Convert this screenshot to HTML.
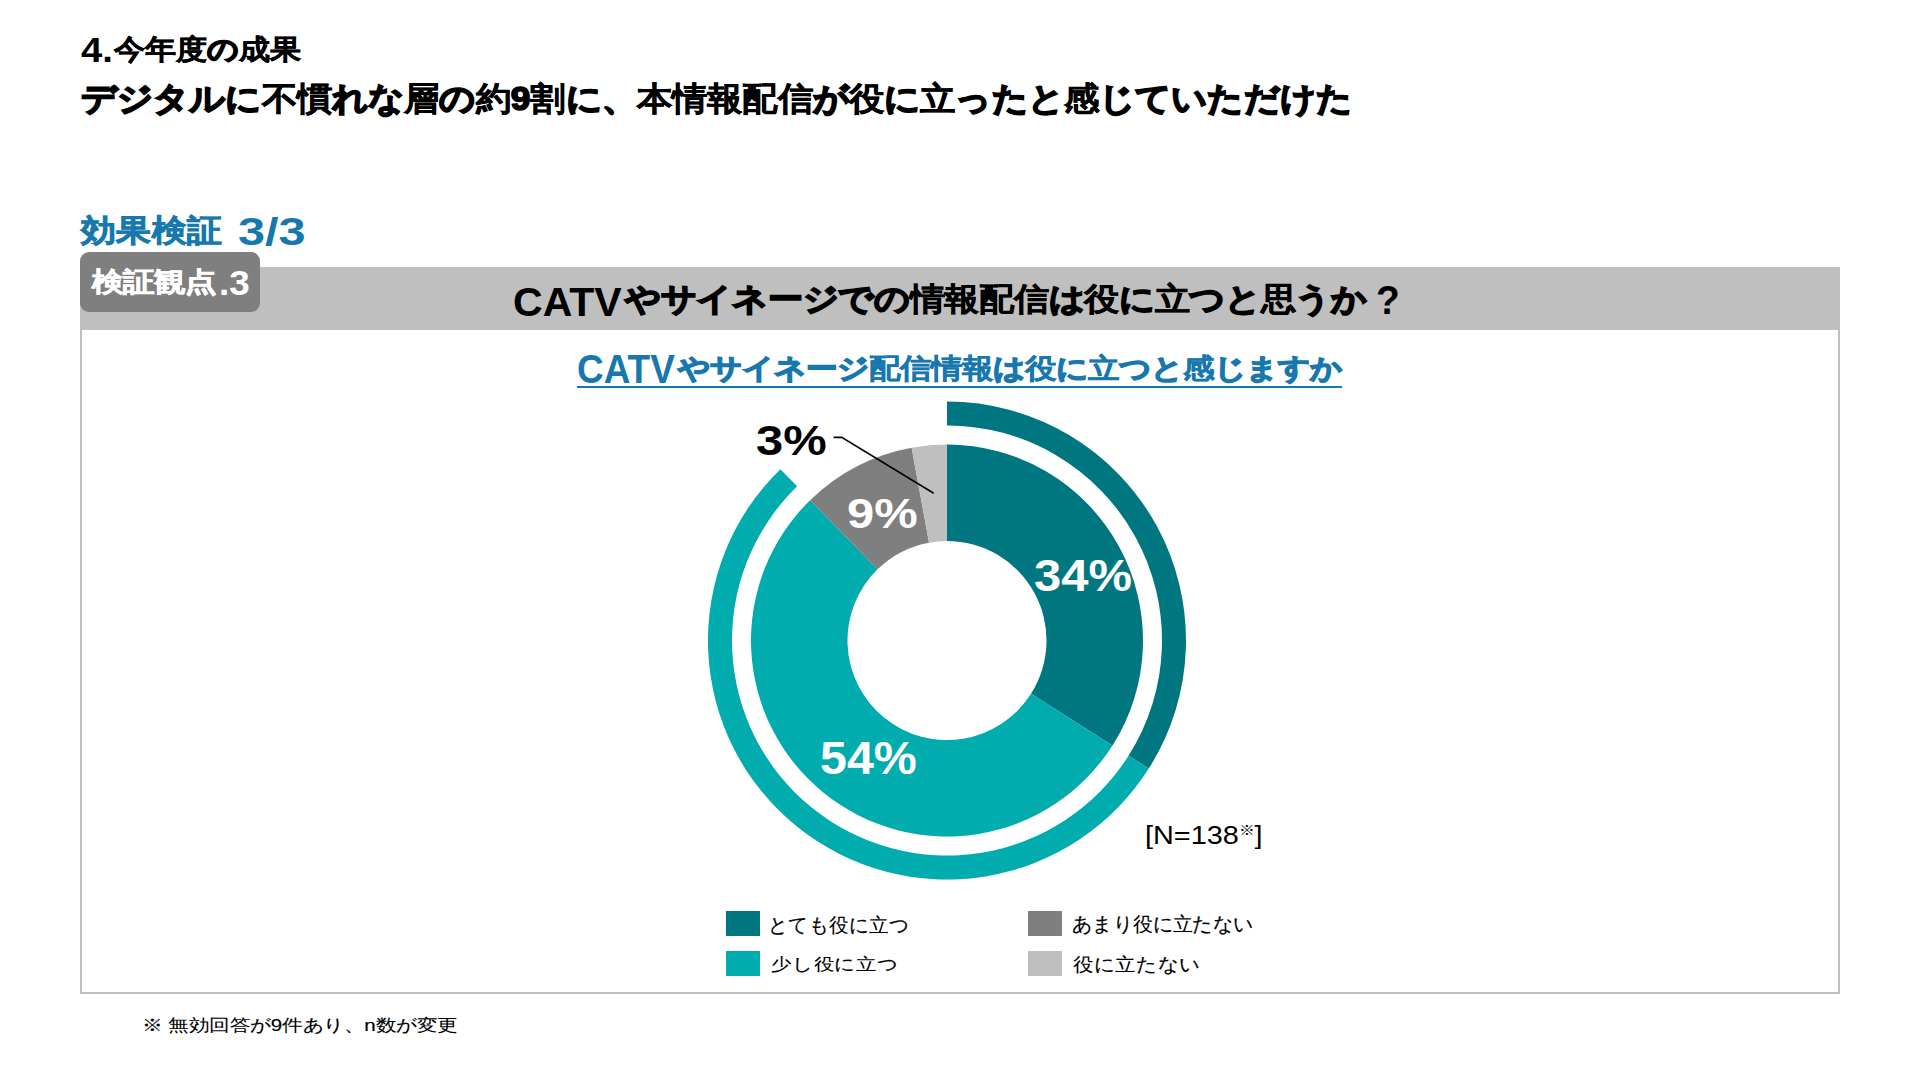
<!DOCTYPE html>
<html lang="ja"><head><meta charset="utf-8"><title>4.今年度の成果</title>
<style>
html,body{margin:0;padding:0;width:1920px;height:1080px;overflow:hidden;background:#fff;}
body{position:relative;font-family:'Liberation Sans', sans-serif;}
.tx{position:absolute;white-space:nowrap;line-height:1;transform-origin:0 0;}
.bx{position:absolute;}
</style></head><body>
<div class="bx" style="left:80px;top:267px;width:1760px;height:63px;background:#bfbfbf"></div>
<div class="bx" style="left:80px;top:330px;width:1756px;height:662px;border:2px solid #bfbfbf;border-top:none"></div>
<div class="bx" style="left:80px;top:252px;width:180px;height:60px;border-radius:9px;background:#7f7f7f"></div>
<div class="bx" style="left:577px;top:386px;width:765px;height:2px;background:#1778b0"></div>
<svg class="bx" style="left:0;top:0" width="1920" height="1080" viewBox="0 0 1920 1080">
<path d="M947.00,444.50 A196,196 0 0 1 1112.49,745.52 L1031.01,693.81 A99.5,99.5 0 0 0 947.00,541.00 Z" fill="#007780"/>
<path d="M1112.49,745.52 A196,196 0 1 1 810.11,500.22 L877.51,569.29 A99.5,99.5 0 1 0 1031.01,693.81 Z" fill="#00acad"/>
<path d="M810.11,500.22 A196,196 0 0 1 911.62,447.72 L929.04,542.63 A99.5,99.5 0 0 0 877.51,569.29 Z" fill="#7f7f7f"/>
<path d="M911.62,447.72 A196,196 0 0 1 947.00,444.50 L947.00,541.00 A99.5,99.5 0 0 0 929.04,542.63 Z" fill="#bfbfbf"/>
<path d="M947.00,401.50 A239,239 0 0 1 1148.79,768.56 L1128.53,755.70 A215,215 0 0 0 947.00,425.50 Z" fill="#007780"/>
<path d="M1148.79,768.56 A239,239 0 1 1 780.38,469.16 L797.11,486.36 A215,215 0 1 0 1128.53,755.70 Z" fill="#00acad"/>
<polyline points="833.6,437.4 841.7,437.4 933.7,493.3" fill="none" stroke="#000" stroke-width="1.6"/>
</svg>
<div class="bx" style="left:726px;top:911px;width:34px;height:25px;background:#007780"></div>
<div class="bx" style="left:726px;top:951px;width:34px;height:25px;background:#00acad"></div>
<div class="bx" style="left:1028px;top:911px;width:34px;height:25px;background:#7f7f7f"></div>
<div class="bx" style="left:1028px;top:951px;width:34px;height:25px;background:#bfbfbf"></div>
<div class="tx" style="left:81.20px;top:31.92px;font-size:30px;font-weight:700;color:#000;transform:scale(1.2783,1.1950)">4.</div>
<div class="tx" style="left:114.33px;top:35.93px;font-size:30px;font-weight:700;color:#000;-webkit-text-stroke:0.05em #000;transform:scale(1.0313,0.9290)"><span style="-webkit-text-stroke-width:0.0150em">今年度</span>の<span style="-webkit-text-stroke-width:0.0150em">成果</span></div>
<div class="tx" style="left:81.07px;top:82.36px;font-size:38px;font-weight:700;color:#000;-webkit-text-stroke:0.05em #000;transform:scale(0.9262,0.8619)">デジタルに<span style="-webkit-text-stroke-width:0.0150em">不慣</span>れな<span style="-webkit-text-stroke-width:0.0150em">層</span>の<span style="-webkit-text-stroke-width:0.0150em">約</span>9<span style="-webkit-text-stroke-width:0.0150em">割</span>に、<span style="-webkit-text-stroke-width:0.0150em">本情報配信</span>が<span style="-webkit-text-stroke-width:0.0150em">役</span>に<span style="-webkit-text-stroke-width:0.0150em">立</span>ったと<span style="-webkit-text-stroke-width:0.0150em">感</span>じていただけた</div>
<div class="tx" style="left:81.28px;top:215.07px;font-size:36px;font-weight:700;color:#1778b0;-webkit-text-stroke:0.05em #1778b0;transform:scale(0.9807,0.8730)"><span style="-webkit-text-stroke-width:0.0250em">効果検証</span></div>
<div class="tx" style="left:238.05px;top:212.98px;font-size:36px;font-weight:700;color:#1778b0;transform:scale(1.3521,1.0538)">3/3</div>
<div class="tx" style="left:91.84px;top:269.29px;font-size:30px;font-weight:700;color:#fff;-webkit-text-stroke:0.05em #fff;transform:scale(1.0355,0.8875)"><span style="-webkit-text-stroke-width:0.0250em">検証観点</span></div>
<div class="tx" style="left:218.55px;top:266.15px;font-size:30px;font-weight:700;color:#fff;transform:scale(1.2273,1.1700)">.3</div>
<div class="tx" style="left:512.66px;top:281.00px;font-size:36px;font-weight:700;color:#000;transform:scale(1.1404,1.1500)">CATV</div>
<div class="tx" style="left:625.13px;top:283.65px;font-size:36px;font-weight:700;color:#000;-webkit-text-stroke:0.05em #000;transform:scale(0.9647,0.8775)">やサイネージでの<span style="-webkit-text-stroke-width:0.0150em">情報配信</span>は<span style="-webkit-text-stroke-width:0.0150em">役</span>に<span style="-webkit-text-stroke-width:0.0150em">立</span>つと<span style="-webkit-text-stroke-width:0.0150em">思</span>うか</div>
<div class="tx" style="left:1376.24px;top:280.42px;font-size:36px;font-weight:700;color:#000;transform:scale(1.0778,1.1462)">?</div>
<div class="tx" style="left:576.91px;top:349.26px;font-size:34px;font-weight:700;color:#1778b0;transform:scale(1.0865,1.1739)">CATV</div>
<div class="tx" style="left:677.93px;top:354.56px;font-size:34px;font-weight:700;color:#1778b0;-webkit-text-stroke:0.05em #1778b0;transform:scale(0.9132,0.8092)">やサイネージ<span style="-webkit-text-stroke-width:0.0150em">配信情報</span>は<span style="-webkit-text-stroke-width:0.0150em">役</span>に<span style="-webkit-text-stroke-width:0.0150em">立</span>つと<span style="-webkit-text-stroke-width:0.0150em">感</span>じますか</div>
<div class="tx" style="left:755.64px;top:419.41px;font-size:42px;font-weight:700;color:#000;transform:scale(1.1627,1.0310)">3%</div>
<div class="tx" style="left:846.54px;top:491.70px;font-size:42px;font-weight:700;color:#fff;transform:scale(1.1627,1.0172)">9%</div>
<div class="tx" style="left:1033.64px;top:554.95px;font-size:42px;font-weight:700;color:#fff;transform:scale(1.1646,1.0414)">34%</div>
<div class="tx" style="left:819.65px;top:735.90px;font-size:42px;font-weight:700;color:#fff;transform:scale(1.1512,1.0828)">54%</div>
<div class="tx" style="left:1144.58px;top:822.26px;font-size:26px;font-weight:400;color:#000;transform:scale(1.1098,0.9792)">[N=138<span style="font-size:0.55em;vertical-align:0.6em">※</span>]</div>
<div class="tx" style="left:768.35px;top:915.91px;font-size:22px;font-weight:400;color:#000;-webkit-text-stroke:0.01em #000;transform:scale(0.8882,0.9091)">とても<span style="-webkit-text-stroke-width:0.0030em">役</span>に<span style="-webkit-text-stroke-width:0.0030em">立</span>つ</div>
<div class="tx" style="left:771.05px;top:956.39px;font-size:22px;font-weight:400;color:#000;-webkit-text-stroke:0.01em #000;transform:scale(0.9466,0.7891)"><span style="-webkit-text-stroke-width:0.0030em">少</span>し<span style="-webkit-text-stroke-width:0.0030em">役</span>に<span style="-webkit-text-stroke-width:0.0030em">立</span>つ</div>
<div class="tx" style="left:1072.12px;top:915.49px;font-size:22px;font-weight:400;color:#000;-webkit-text-stroke:0.01em #000;transform:scale(0.8847,0.8870)">あまり<span style="-webkit-text-stroke-width:0.0030em">役</span>に<span style="-webkit-text-stroke-width:0.0030em">立</span>たない</div>
<div class="tx" style="left:1073.00px;top:954.77px;font-size:22px;font-weight:400;color:#000;-webkit-text-stroke:0.01em #000;transform:scale(0.9396,0.8739)"><span style="-webkit-text-stroke-width:0.0030em">役</span>に<span style="-webkit-text-stroke-width:0.0030em">立</span>たない</div>
<div class="tx" style="left:141.92px;top:1016.80px;font-size:20px;font-weight:400;color:#000;-webkit-text-stroke:0.01em #000;transform:scale(1.0253,0.8429)">※ <span style="-webkit-text-stroke-width:0.0030em">無効回答</span>が9<span style="-webkit-text-stroke-width:0.0030em">件</span>あり、n<span style="-webkit-text-stroke-width:0.0030em">数</span>が<span style="-webkit-text-stroke-width:0.0030em">変更</span></div>
<script>
(function(){
var W=[25.03, 181, 1372.14, 144, 50.05, 120, 25.03, 95.33, 769, 22, 90.03, 727, 60.7, 60.7, 84.06, 84.06, 105.81, 159, 135, 205, 136, 307.81],SX=[1.2783, 1.0313, 0.9262, 0.9807, 1.3521, 1.0355, 1.2273, 1.1404, 0.9647, 1.0778, 1.0865, 0.9132, 1.1627, 1.1627, 1.1646, 1.1512, 1.1098, 0.8882, 0.9466, 0.8847, 0.9396, 1.0253],SY=[1.195, 0.929, 0.8619, 0.873, 1.0538, 0.8875, 1.17, 1.15, 0.8775, 1.1462, 1.1739, 0.8092, 1.031, 1.0172, 1.0414, 1.0828, 0.9792, 0.9091, 0.7891, 0.887, 0.8739, 0.8429];
var els=document.querySelectorAll('.tx'),ws=[],i;
for(i=0;i<els.length;i++){var t=els[i].style.transform;els[i].style.transform='none';ws.push(els[i].getBoundingClientRect().width);els[i].style.transform=t;}
for(i=0;i<els.length&&i<W.length;i++){if(!ws[i])continue;var r=W[i]/ws[i];if(Math.abs(r-1)>0.02){els[i].style.transform='scale('+(SX[i]*r).toFixed(4)+','+SY[i]+')';}}
})();
</script>
</body></html>
